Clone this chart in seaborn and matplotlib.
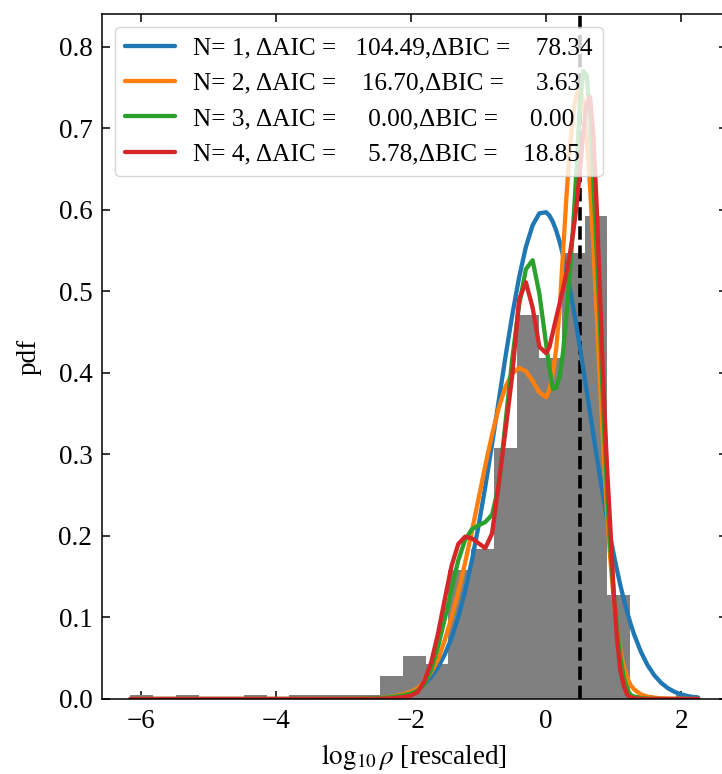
import matplotlib
matplotlib.use("Agg")
import matplotlib.pyplot as plt
import seaborn as sns

# ---------------- data ----------------
hist_edges = [-6.150, -5.814, -5.478, -5.142, -4.806, -4.470, -4.134, -3.798, -3.462,
              -3.126, -2.790, -2.454, -2.118, -1.782, -1.446, -1.110, -0.774, -0.438,
              -0.102, 0.234, 0.570, 0.906, 1.242, 1.578, 1.914, 2.250]
hist_density = [0.0049, 0.0, 0.0049, 0.0, 0.0, 0.0049, 0.0, 0.0049, 0.0049, 0.0049,
                0.0049, 0.028, 0.053, 0.043, 0.158, 0.184, 0.308, 0.471, 0.418, 0.547,
                0.592, 0.128, 0.0049, 0.0, 0.0049]

grid_x = [-6.15, -5.0, -4.0, -3.0,
          -2.6, -2.5, -2.4, -2.3, -2.2, -2.1, -2.0, -1.9, -1.8, -1.7, -1.6, -1.5, -1.4,
          -1.3, -1.2, -1.1, -1.0, -0.9, -0.8, -0.7, -0.6, -0.5, -0.4, -0.3, -0.2, -0.1,
          0.0, 0.05, 0.10, 0.15, 0.20, 0.25, 0.30, 0.35, 0.40, 0.45, 0.50, 0.55, 0.60,
          0.65, 0.70, 0.75, 0.80, 0.85, 0.90, 0.95, 1.00, 1.05, 1.10, 1.15, 1.20, 1.25,
          1.30,
          1.4, 1.5, 1.6, 1.7, 1.8, 1.9, 2.0, 2.1, 2.2, 2.25]

pdf_n1 = [0.0, 0.0, 0.0, 0.0001,
          0.0004, 0.0007, 0.0011, 0.0019, 0.0032, 0.0051, 0.0080, 0.0123, 0.0184, 0.0270,
          0.0388, 0.0545, 0.0748, 0.1004, 0.1318, 0.1692, 0.2123, 0.2604, 0.3125, 0.3665,
          0.4204, 0.4715, 0.5170, 0.5542, 0.5810, 0.5956,
          0.5969, 0.5926, 0.5850, 0.5742, 0.5605, 0.5441, 0.5252, 0.5041, 0.4811, 0.4566,
          0.4309, 0.4044, 0.3774, 0.3502, 0.3232, 0.2966, 0.2706, 0.2455, 0.2215, 0.1988,
          0.1773, 0.1573, 0.1388, 0.1217, 0.1062, 0.0921, 0.0795,
          0.0582, 0.0416, 0.0291, 0.0199, 0.0133, 0.0087, 0.0056, 0.0035, 0.0021, 0.0016]

pdf_n2 = [0.0, 0.0, 0.0, 0.0001,
          0.0005, 0.0009, 0.0016, 0.0027, 0.0042, 0.0062, 0.0090, 0.0130, 0.0210, 0.0330,
          0.0480, 0.0720, 0.1000, 0.1315, 0.1665, 0.2050, 0.2456, 0.2862, 0.3243, 0.3574,
          0.3831, 0.3994, 0.4060, 0.4020, 0.3900, 0.3760,
          0.370, 0.380, 0.400, 0.430, 0.478, 0.548, 0.615, 0.675, 0.718, 0.742,
          0.748, 0.733, 0.690, 0.627, 0.552, 0.468, 0.383, 0.302, 0.230, 0.171,
          0.122, 0.085, 0.058, 0.039, 0.026, 0.017, 0.012,
          0.0056, 0.0030, 0.0016, 0.0009, 0.0005, 0.0003, 0.0002, 0.0001, 0.0, 0.0]

pdf_n3 = [0.0, 0.0, 0.0, 0.0002,
          0.0006, 0.0010, 0.0015, 0.0022, 0.0032, 0.0046, 0.0068, 0.0105, 0.018, 0.036,
          0.064, 0.098, 0.135, 0.170, 0.195, 0.208, 0.213, 0.217, 0.226, 0.262,
          0.340, 0.418, 0.483, 0.527, 0.538, 0.497,
          0.435, 0.405, 0.380, 0.382, 0.395, 0.425, 0.470, 0.522, 0.580, 0.650,
          0.730, 0.770, 0.765, 0.715, 0.630, 0.545, 0.450, 0.345, 0.255, 0.185,
          0.130, 0.085, 0.050, 0.026, 0.012, 0.005, 0.003,
          0.001, 0.0005, 0.0002, 0.0, 0.0, 0.0, 0.0, 0.0, 0.0, 0.0]

pdf_n4 = [0.0, 0.0, 0.0, 0.0,
          0.0001, 0.0002, 0.0004, 0.0008, 0.0015, 0.0025, 0.0042, 0.0085, 0.022, 0.045,
          0.080, 0.122, 0.163, 0.190, 0.199, 0.197, 0.191, 0.185, 0.203, 0.265,
          0.330, 0.398, 0.490, 0.511, 0.480, 0.432,
          0.424, 0.432, 0.450, 0.468, 0.485, 0.503, 0.522, 0.545, 0.572, 0.605,
          0.648, 0.695, 0.730, 0.738, 0.690, 0.600, 0.490, 0.380, 0.285, 0.210,
          0.130, 0.072, 0.034, 0.016, 0.005, 0.002, 0.001,
          0.0, 0.0, 0.0, 0.0, 0.0, 0.0, 0.0, 0.0, 0.0, 0.0]

n_components = [1, 2, 3, 4]
delta_aic = [104.49, 16.70, 0.00, 5.78]
delta_bic = [78.34, 3.63, 0.00, 18.85]
x_marker = 0.5

# ---------------- style ----------------
sns.set_style("ticks")
plt.rcParams["font.family"] = ["Liberation Serif", "DejaVu Serif"]
plt.rcParams["mathtext.fontset"] = "stix"
plt.rcParams["axes.edgecolor"] = "black"
plt.rcParams["xtick.color"] = "black"
plt.rcParams["ytick.color"] = "black"
plt.rcParams["text.color"] = "black"
plt.rcParams["axes.labelcolor"] = "black"

fig = plt.figure(figsize=(7.22, 7.74), dpi=100)
ax = fig.add_axes([0.1413, 0.0969, 1.0064 - 0.1413, 0.9819 - 0.0969])

centers = [(hist_edges[i] + hist_edges[i + 1]) / 2 for i in range(len(hist_density))]
sns.histplot(x=centers, weights=hist_density, bins=hist_edges, stat="count",
             color="#808080", alpha=1.0, linewidth=0, ax=ax)

ax.axvline(x_marker, color="black", ls="--", lw=2.6, zorder=1.5)

colors = ["#1f77b4", "#ff7f0e", "#2ca02c", "#d62728"]
curves = [pdf_n1, pdf_n2, pdf_n3, pdf_n4]
for n, a, b, c, y in zip(n_components, delta_aic, delta_bic, colors, curves):
    lab = f"N= {n}, \u0394AIC = {a:8.2f},\u0394BIC = {b:8.2f}"
    sns.lineplot(x=grid_x, y=y, color=c, lw=3.1, label=lab, ax=ax)

ax.set_xlim(-6.57, 2.67)
ax.set_ylim(0, 0.84)
ax.set_xticks([-6, -4, -2, 0, 2])
ax.set_yticks([0.0, 0.1, 0.2, 0.3, 0.4, 0.5, 0.6, 0.7, 0.8])
ax.tick_params(direction="in", top=True, right=True, length=6, width=1.1,
               labelsize=19.5, pad=7)
for s in ax.spines.values():
    s.set_linewidth(1.1)
    s.set_color("black")

ax.set_xlabel(r"$\log_{10}\rho$ [rescaled]", fontsize=19.5, labelpad=6)
ax.set_ylabel("pdf", fontsize=19.5, labelpad=12)
ax.legend(loc="upper left", fontsize=18.2, labelspacing=0.5, handlelength=2.0,
          handletextpad=0.7, frameon=True, framealpha=0.8)

fig.savefig("out.png", dpi=100)
